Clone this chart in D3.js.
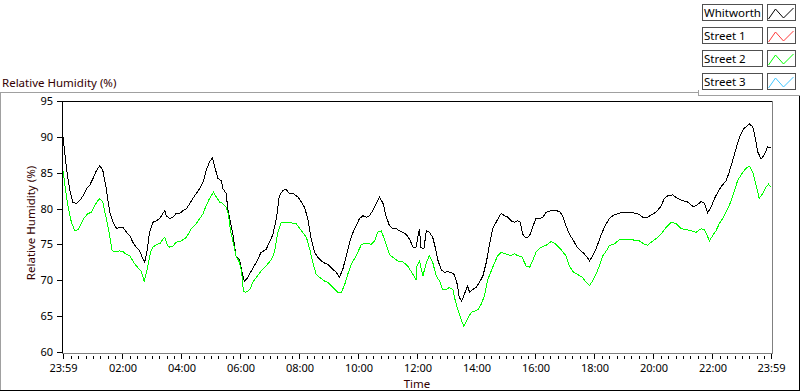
<!DOCTYPE html>
<html>
<head>
<meta charset="utf-8">
<script src="https://cdn.jsdelivr.net/npm/d3@7"></script>
<style>
  body { margin: 0; background: #fff; }
  svg { display: block; font-family: "Noto Sans", sans-serif; }
</style>
</head>
<body>
<svg id="chart" width="800" height="392"></svg>
<script>
// Legend entries (Street 1 and Street 3 have no samples in this window)
const seriesNames = ['Whitworth', 'Street 1', 'Street 2', 'Street 3'];
const seriesColors = ['#000000', '#ff3b3b', '#00ff00', '#3fc6ff'];

// [minutes after 23:59, relative humidity %]
const whitworth = [
  [0, 90.0], [7, 85.6], [14, 82.5], [20, 80.9], [27, 80.7], [34, 81.1], [41, 81.8], [48, 82.8],
  [54, 83.2], [61, 84.2], [68, 85.3], [75, 86.0], [81, 85.3], [88, 82.8], [95, 79.5], [102, 78.1],
  [109, 77.2], [115, 77.4], [122, 77.4], [129, 76.7], [136, 76.2], [142, 75.3], [149, 74.6], [156, 74.1],
  [163, 72.9], [166, 72.5], [171, 74.1], [176, 76.7], [183, 78.1], [190, 78.3], [197, 78.6], [203, 79.3],
  [207, 79.7], [210, 79.0], [217, 78.6], [224, 78.8], [230, 79.3], [237, 79.3], [244, 79.7], [251, 80.0],
  [258, 80.7], [264, 81.4], [271, 82.1], [278, 82.8], [285, 83.7], [291, 85.3], [298, 86.5], [304, 87.1],
  [308, 86.0], [315, 84.2], [322, 83.9], [325, 82.8], [332, 82.1], [335, 80.0], [339, 78.6], [346, 76.2],
  [352, 73.4], [359, 72.9], [363, 71.5], [366, 70.6], [369, 69.9], [376, 70.4], [383, 71.3], [393, 72.5],
  [403, 73.9], [413, 74.3], [420, 75.3], [427, 76.4], [434, 78.6], [440, 81.8], [447, 82.5], [453, 82.7],
  [461, 82.1], [468, 82.1], [478, 81.6], [485, 80.9], [491, 80.2], [498, 78.6], [505, 75.7], [512, 73.9],
  [518, 73.2], [529, 72.5], [539, 72.2], [549, 71.5], [556, 71.1], [562, 70.4], [569, 71.5], [576, 73.4],
  [583, 75.3], [590, 76.7], [596, 77.6], [603, 78.6], [610, 79.0], [617, 78.8], [623, 79.0], [630, 79.7],
  [637, 80.7], [644, 81.6], [651, 80.7], [657, 79.0], [664, 77.6], [671, 77.2], [678, 77.2], [684, 76.9],
  [691, 76.7], [698, 76.4], [705, 75.7], [712, 74.6], [718, 74.6], [725, 77.2], [728, 74.6], [734, 74.4],
  [739, 76.9], [745, 76.7], [752, 76.0], [757, 74.6], [762, 72.9], [769, 71.5], [776, 71.1], [783, 71.2],
  [789, 71.1], [796, 70.8], [802, 69.4], [806, 67.6], [811, 67.1], [816, 68.0], [823, 69.2], [827, 68.3],
  [833, 68.7], [840, 69.0], [847, 69.7], [854, 70.6], [861, 72.5], [867, 74.8], [874, 77.2], [881, 78.1],
  [888, 79.0], [892, 79.3], [898, 79.0], [905, 78.8], [911, 78.3], [918, 78.1], [925, 78.3], [930, 78.1],
  [935, 76.4], [942, 75.9], [949, 76.2], [955, 77.4], [962, 78.6], [969, 78.6], [976, 78.8], [983, 79.5],
  [993, 79.7], [1003, 79.7], [1010, 79.6], [1016, 79.0], [1023, 77.6], [1030, 76.4], [1037, 75.7], [1044, 74.8],
  [1050, 74.3], [1057, 73.9], [1064, 73.4], [1071, 72.7], [1077, 73.4], [1084, 74.3], [1091, 75.7], [1098, 76.9],
  [1105, 77.9], [1111, 78.6], [1118, 79.0], [1128, 79.3], [1138, 79.5], [1149, 79.5], [1159, 79.4], [1169, 79.3],
  [1179, 78.8], [1187, 78.7], [1196, 79.1], [1206, 79.5], [1216, 80.3], [1223, 81.4], [1230, 81.8], [1240, 81.9],
  [1250, 81.4], [1260, 81.1], [1271, 80.9], [1281, 80.3], [1288, 80.4], [1298, 81.0], [1305, 80.7], [1311, 79.4],
  [1318, 80.2], [1325, 81.4], [1332, 82.3], [1338, 83.0], [1349, 83.9], [1355, 85.1], [1362, 86.7], [1369, 88.4],
  [1376, 90.0], [1383, 91.0], [1389, 91.4], [1396, 91.8], [1403, 91.4], [1408, 89.8], [1413, 87.9], [1420, 86.9],
  [1427, 87.6], [1433, 88.6], [1440, 88.5]
];

const street2 = [
  [0, 85.3], [4, 83.2], [10, 80.4], [17, 78.1], [24, 76.9], [31, 77.1], [37, 77.9], [44, 78.8],
  [51, 79.3], [58, 79.5], [64, 80.4], [71, 81.1], [75, 81.4], [81, 80.9], [88, 78.6], [95, 76.2],
  [100, 74.1], [109, 74.0], [115, 74.1], [122, 74.0], [129, 73.6], [136, 73.4], [142, 72.7], [149, 72.0],
  [159, 71.3], [165, 69.9], [171, 71.5], [178, 73.9], [183, 74.6], [190, 75.0], [197, 75.1], [203, 75.7],
  [207, 76.0], [212, 74.9], [217, 74.6], [224, 74.8], [230, 75.3], [241, 75.5], [251, 76.0], [261, 77.2],
  [271, 77.9], [278, 78.6], [285, 79.3], [291, 80.4], [298, 81.4], [306, 82.3], [312, 81.6], [319, 80.9],
  [325, 80.7], [332, 80.2], [337, 79.0], [340, 77.2], [346, 75.3], [352, 73.4], [359, 72.5], [363, 71.3],
  [367, 68.5], [371, 68.3], [380, 68.7], [386, 69.7], [393, 70.4], [403, 71.3], [413, 72.0], [424, 72.9],
  [430, 73.9], [437, 76.7], [444, 78.1], [454, 78.1], [464, 78.0], [474, 77.9], [485, 76.9], [495, 76.0],
  [502, 74.3], [508, 72.5], [515, 70.8], [522, 70.4], [532, 69.9], [539, 69.7], [549, 69.0], [559, 68.3],
  [566, 68.3], [573, 69.4], [579, 70.8], [586, 72.2], [596, 73.4], [607, 75.0], [617, 75.2], [627, 75.0],
  [634, 75.5], [640, 76.7], [647, 76.9], [654, 75.7], [664, 73.6], [671, 73.2], [681, 72.7], [691, 72.6],
  [701, 72.0], [712, 70.8], [718, 70.1], [720, 72.0], [725, 72.7], [732, 70.6], [739, 72.5], [745, 73.4],
  [752, 72.5], [759, 70.6], [766, 69.9], [772, 68.7], [779, 68.7], [786, 69.0], [793, 68.7], [798, 67.1],
  [803, 65.9], [810, 64.5], [815, 63.6], [822, 64.5], [830, 65.5], [837, 65.7], [844, 65.9], [850, 66.6],
  [857, 67.8], [864, 70.1], [871, 71.3], [878, 72.5], [884, 73.4], [891, 73.9], [898, 73.7], [905, 73.6],
  [911, 73.4], [918, 73.7], [926, 73.4], [933, 73.3], [942, 72.0], [949, 71.8], [955, 72.7], [962, 73.9],
  [972, 74.6], [983, 74.9], [993, 75.4], [1003, 75.0], [1013, 74.3], [1023, 73.4], [1030, 72.0], [1037, 71.2],
  [1047, 70.8], [1057, 70.4], [1064, 69.7], [1071, 69.3], [1077, 69.9], [1084, 70.8], [1091, 72.0], [1098, 73.4],
  [1105, 74.1], [1111, 74.8], [1122, 75.1], [1132, 75.7], [1142, 75.7], [1152, 75.7], [1162, 75.6], [1172, 75.5],
  [1183, 75.0], [1189, 74.9], [1196, 75.3], [1206, 75.8], [1216, 76.4], [1227, 77.4], [1237, 78.1], [1247, 77.9],
  [1257, 77.2], [1267, 77.1], [1277, 76.9], [1288, 76.7], [1298, 77.2], [1305, 77.0], [1315, 75.5], [1321, 76.2],
  [1328, 76.9], [1335, 77.9], [1345, 79.0], [1355, 80.4], [1366, 82.5], [1372, 83.9], [1383, 85.1], [1389, 85.6],
  [1396, 85.9], [1403, 85.1], [1410, 83.2], [1416, 81.4], [1423, 82.1], [1430, 83.0], [1435, 83.4], [1440, 83.0]
];

const yTicks = [60, 65, 70, 75, 80, 85, 90, 95];
const xMajorHours = [2, 4, 6, 8, 10, 12, 14, 16, 18, 20, 22];

const svg = d3.select('#chart');
const start = new Date(2024, 0, 1, 23, 59);
const end = d3.timeMinute.offset(start, 1440);
const at = m => d3.timeMinute.offset(start, m);

const x = d3.scaleTime().domain([start, end]).range([63, 771]);
const y = d3.scaleLinear().domain([60, 95]).range([352, 101]);

// Outer frame and legend panel edge
const frame = svg.append('g').attr('shape-rendering', 'crispEdges');
frame.append('path').attr('d', 'M0.5,391V92.5H698').attr('fill', 'none').attr('stroke', '#a0a0a0');
frame.append('path').attr('d', 'M0,390.5H799.5V95').attr('fill', 'none').attr('stroke', '#000');
frame.append('path').attr('d', 'M698.5,90V95.5H800').attr('fill', 'none').attr('stroke', '#a0a0a0');

svg.append('text')
  .attr('x', 2).attr('y', 87)
  .attr('font-size', 11.5).attr('fill', '#300')
  .text('Relative Humidity (%)');

// Plot area border: black top/left, grey right/bottom
frame.append('path').attr('d', 'M62.5,354V101.5H773').attr('fill', 'none').attr('stroke', '#000');
frame.append('path').attr('d', 'M772.5,101V353.5H62').attr('fill', 'none').attr('stroke', '#808080');

// Data lines
svg.append('clipPath').attr('id', 'plot-clip')
  .append('rect').attr('x', 63).attr('y', 102).attr('width', 709).attr('height', 251);

const line = d3.line()
  .x(d => x(at(d[0])))
  .y(d => y(d[1]));

const plot = svg.append('g').attr('clip-path', 'url(#plot-clip)');
[[whitworth, seriesColors[0]], [street2, seriesColors[2]]].forEach(([data, color]) => {
  plot.append('path')
    .datum(data)
    .attr('d', line)
    .attr('fill', 'none')
    .attr('stroke', color)
    .attr('stroke-width', 1)
    .attr('shape-rendering', 'crispEdges');
});

// Y axis
const yAxis = svg.append('g')
  .attr('transform', 'translate(62,0)')
  .attr('shape-rendering', 'crispEdges')
  .call(d3.axisLeft(y).tickValues(yTicks).tickSize(5).tickPadding(4));
yAxis.select('.domain').remove();
yAxis.selectAll('text').attr('font-size', 11).attr('font-family', '"Noto Sans", sans-serif').attr('fill', '#000');

svg.append('text')
  .attr('transform', 'translate(34.5,223) rotate(-90)')
  .attr('text-anchor', 'middle')
  .attr('font-size', 11.5).attr('fill', '#300')
  .text('Relative Humidity (%)');

// X axis: major ticks every 2 h plus both ends, minor every 15 min
const majorTimes = [start, ...xMajorHours.map(h => new Date(2024, 0, 2, h, 0)), end];
const minorTimes = d3.timeMinute.every(15).range(start, end)
  .filter(t => majorTimes.every(m => Math.abs(x(m) - x(t)) > 2));

const xMinor = svg.append('g')
  .attr('transform', 'translate(0,359)')
  .attr('shape-rendering', 'crispEdges')
  .call(d3.axisBottom(x).tickValues(minorTimes).tickFormat('').tickSize(-3).tickSizeOuter(0));
xMinor.select('.domain').remove();

const xMajor = svg.append('g')
  .attr('transform', 'translate(0,359)')
  .attr('shape-rendering', 'crispEdges')
  .call(d3.axisBottom(x).tickValues(majorTimes).tickFormat(d3.timeFormat('%H:%M')).tickSize(-5).tickSizeOuter(0));
xMajor.select('.domain').remove();
xMajor.selectAll('text')
  .attr('y', 13).attr('dy', null)
  .attr('font-size', 11).attr('font-family', '"Noto Sans", sans-serif').attr('fill', '#000');

svg.append('text')
  .attr('x', 417).attr('y', 388)
  .attr('text-anchor', 'middle')
  .attr('font-size', 11.5).attr('fill', '#300')
  .text('Time');

// Legend: name box + line swatch per series
const legend = svg.append('g');
const rows = legend.selectAll('g')
  .data(seriesNames)
  .enter()
  .append('g')
  .attr('transform', (d, i) => `translate(0,${4 + i * 23})`);

rows.append('rect')
  .attr('x', 702.5).attr('y', 0.5).attr('width', 60).attr('height', 16)
  .attr('fill', '#fff').attr('stroke', '#505050').attr('shape-rendering', 'crispEdges');
rows.append('text')
  .attr('x', 704).attr('y', 13)
  .attr('font-size', 11.5).attr('fill', '#000')
  .text(d => d);
rows.append('rect')
  .attr('x', 767.5).attr('y', 0.5).attr('width', 28).attr('height', 16)
  .attr('fill', '#fff').attr('stroke', '#505050').attr('shape-rendering', 'crispEdges');
rows.append('path')
  .attr('d', 'M768.5,15L775.5,5L783.5,14L793.5,4')
  .attr('fill', 'none')
  .attr('stroke', (d, i) => seriesColors[i])
  .attr('stroke-width', 1);
</script>
</body>
</html>
